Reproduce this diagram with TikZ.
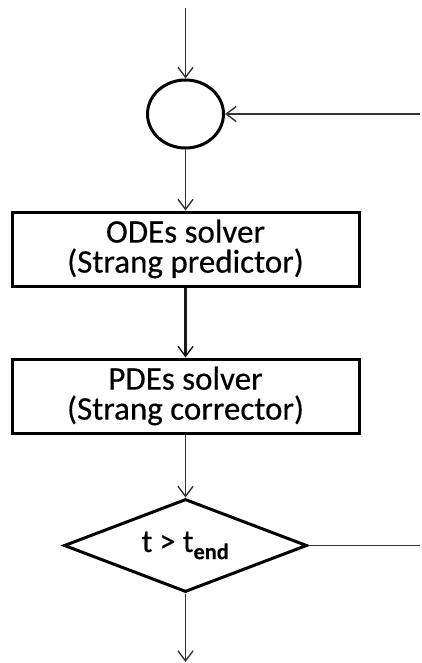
\documentclass[tikz,border=0pt]{standalone}
\usepackage{fontspec}
\setmainfont{Carlito}[FakeBold=0.4]
\usetikzlibrary{arrows.meta,shapes.geometric}
\begin{document}
\begin{tikzpicture}[x=1pt,y=-1pt,
  conn/.style={draw=black!80, line width=1.5pt},
  arr/.style={conn, -{Straight Barb[length=10pt,width=15pt,line width=1.4pt]}},
  heavy/.style={line width=2.2pt, draw=black!90},
  outline/.style={draw=black, line width=3pt, fill=white, inner sep=0pt},
  stepbox/.style={outline, rectangle, minimum width=347pt, minimum height=74pt,
    align=center, font=\fontsize{33}{30}\selectfont},
  junction/.style={outline, ellipse, minimum width=76pt, minimum height=68pt},
  test/.style={outline, diamond, aspect=2.6, minimum width=243pt, minimum height=93pt,
    font=\fontsize{32}{34}\selectfont}
]
\useasboundingbox (0,0) rectangle (421,663);

% flowchart nodes
\node[junction] (circ) at (185.5,114) {};
\node[stepbox]  (box1) at (185.5,249) {ODEs solver\\(Strang predictor)};
\node[stepbox]  (box2) at (185.5,396) {PDEs solver\\(Strang corrector)};
\node[test]     (dec)  at (185.5,545.5) {t > t\textsubscript{\bfseries end}};

% free ends of the connectors
\coordinate (entry)   at (185.5,8);
\coordinate (loopin)  at (420,114);
\coordinate (loopout) at (420,545.5);
\coordinate (exit)    at (185.5,662);

% connectors
\draw[arr]        (entry)  -- (circ);
\draw[arr]        (loopin) -- (circ);
\draw[arr]        (circ)   -- (box1);
\draw[arr, heavy] (box1)   -- (box2);
\draw[arr]        (box2)   -- (dec);
\draw[conn]       (dec)    -- (loopout);
\draw[arr]        (dec)    -- (exit);
\end{tikzpicture}
\end{document}
